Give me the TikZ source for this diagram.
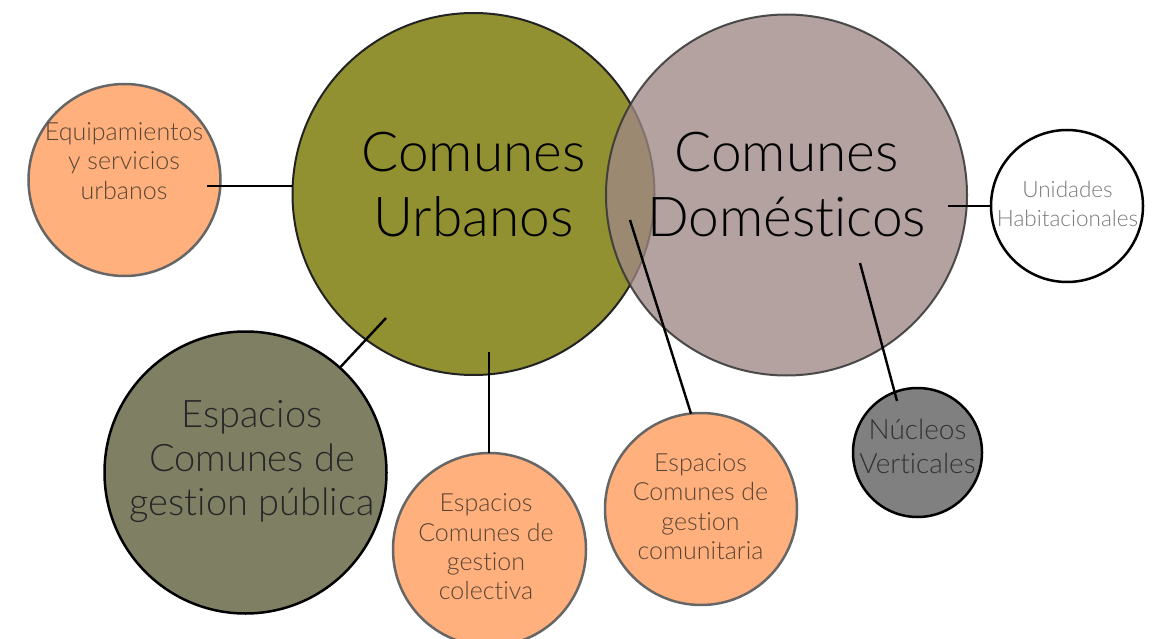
\documentclass[tikz,border=0pt]{standalone}
\usepackage{fontspec}
\setmainfont{Lato Light}[Ligatures=NoCommon]
\definecolor{cUrb}{HTML}{929132}
\definecolor{cUrbB}{HTML}{222222}
\definecolor{cDom}{HTML}{9E8885}
\definecolor{cDomB}{HTML}{333333}
\definecolor{cOra}{HTML}{FFB07C}
\definecolor{cOraB}{HTML}{666666}
\definecolor{cOraT}{HTML}{5A4535}
\definecolor{cPub}{HTML}{7F7F64}
\definecolor{cNuc}{HTML}{808080}
\definecolor{cUniT}{HTML}{7A7A7A}
\begin{document}
\begin{tikzpicture}[x=1pt,y=-1pt,
  bub/.style={circle,inner sep=0pt,outer sep=0pt},
  orangebub/.style={bub,fill=cOra,draw=cOraB,line width=2.5pt},
  darkbub/.style={bub,draw=black,line width=2.5pt},
  link/.style={line width=2.4pt,black},
  txt/.style={align=center,inner sep=0pt,outer sep=0pt},
  bigtxt/.style={txt,text=black,font=\fontsize{55}{65}\selectfont},
  pubtxt/.style={txt,text=black!85,font=\fontsize{38}{44}\selectfont},
  oratxt/.style={txt,text=cOraT,font=\fontsize{25}{29.4}\selectfont},
  nuctxt/.style={txt,text=black!80,font=\fontsize{28}{34}\selectfont},
  unitxt/.style={txt,text=cUniT,font=\fontsize{22.5}{29}\selectfont}]
\useasboundingbox (0,0) rectangle (1164,639);
\clip (0,0) rectangle (1164,639);
% main circles
\node[bub,fill=cUrb,draw=cUrbB,line width=2pt,minimum size=362pt] (urb) at (473.5,194) {};
\node[bub,fill=cDom,fill opacity=0.78,draw=cDomB,draw opacity=0.85,line width=2pt,minimum size=361pt] (dom) at (786.5,195) {};
% satellite circles
\node[orangebub,minimum size=192pt] (equ) at (124.5,180) {};
\node[darkbub,fill=cPub,minimum size=282pt] (pub) at (245.5,472.5) {};
\node[orangebub,minimum size=193pt] (col) at (489.5,549.5) {};
\node[orangebub,minimum size=192pt] (com) at (701,509) {};
\node[darkbub,fill=cNuc,minimum size=129pt] (nuc) at (917.5,452.5) {};
\node[darkbub,fill=white,minimum size=152pt] (uni) at (1067,206) {};
% texts
\node[bigtxt] (turb) at (473.5,184.5) {Comunes\\Urbanos};
\node[bigtxt] (tdom) at (786.5,184.5) {Comunes\\Domésticos};
\node[oratxt] (tequ) at (124,161) {Equipamientos\\y servicios\\urbanos};
\node[pubtxt] (tpub) at (252,461) {Espacios\\Comunes de\\gestion pública};
\node[oratxt] (tcol) at (486,547) {Espacios\\Comunes de\\gestion\\colectiva};
\node[oratxt] (tcom) at (700.5,506.7) {Espacios\\Comunes de\\gestion\\comunitaria};
\node[nuctxt] (tnuc) at (917.5,446.5) {Núcleos\\Verticales};
\node[unitxt] (tuni) at (1067.5,204) {Unidades\\Habitacionales};
% connectors
\coordinate (c1) at (207,186);
\coordinate (c2) at (386,318);
\coordinate (c3) at (489,352);
\coordinate (c4) at (630,220);
\coordinate (c5a) at (860,263);
\coordinate (c5b) at (897,401);
\coordinate (c6) at (948,206);
\draw[link] (c1) -- (c1 -| urb.west);
\draw[link] (c2) -- (pub.48.7);
\draw[link] (c3) -- (c3 |- col.north);
\draw[link] (c4) -- (com.96.6);
\draw[link] (c5a) -- (c5b);
\draw[link] (c6) -- (uni.west);
\end{tikzpicture}
\end{document}
